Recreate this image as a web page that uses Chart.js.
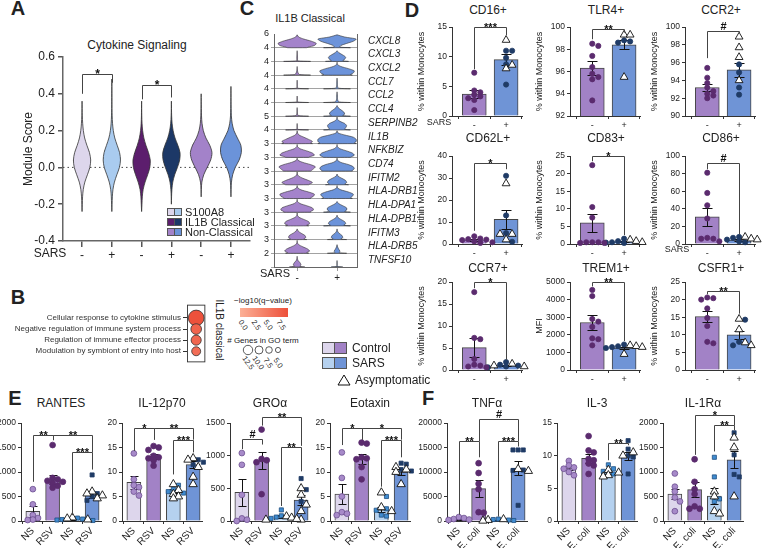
<!DOCTYPE html>
<html>
<head>
<meta charset="utf-8">
<title>Monocyte figure</title>
<script src="https://cdn.jsdelivr.net/npm/chart.js@4.4.1/dist/chart.umd.min.js"></script>
<style>
  body { margin: 0; background: #fff; }
  #fig { position: relative; width: 763px; height: 548px; overflow: hidden;
         font-family: "Liberation Sans", Arial, sans-serif; color: #222; }
  #fig canvas { position: absolute; }
  .t { position: absolute; white-space: nowrap; transform: translate(-50%, -50%); line-height: 1; }
  .sw { position: absolute; border: 1px solid #555; box-sizing: border-box; }
</style>
</head>
<body>
<div id="fig"></div>
<script>
// ---------------- data ----------------
// A: module score violins (density on a shared grid)
const aTicks = ['-', '+', '-', '+', '-', '+'];
const aGrid = [-0.24, -0.20, -0.16, -0.12, -0.08, -0.04, 0.00, 0.04, 0.08, 0.12, 0.16, 0.20, 0.24, 0.28, 0.32, 0.36, 0.40, 0.44, 0.48];
const aS100Ctrl = [0, 0.03, 0.06, 0.14, 0.32, 0.62, 0.9, 1.0, 0.86, 0.56, 0.3, 0.15, 0.07, 0.03, 0.01, 0, 0, 0, 0];
const aS100Sars = [0, 0.03, 0.06, 0.13, 0.3, 0.58, 0.88, 1.0, 0.9, 0.62, 0.34, 0.17, 0.08, 0.04, 0.02, 0.015, 0.01, 0.005, 0];
const aIl1bCtrl = [0, 0.04, 0.08, 0.18, 0.4, 0.7, 0.95, 1.0, 0.8, 0.5, 0.26, 0.12, 0.05, 0.02, 0.01, 0, 0, 0, 0];
const aIl1bSars = [0, 0, 0.02, 0.06, 0.16, 0.38, 0.7, 0.96, 1.0, 0.75, 0.42, 0.2, 0.08, 0.03, 0.01, 0, 0, 0, 0];
const aNcCtrl   = [0, 0, 0, 0.02, 0.08, 0.3, 0.7, 1.1, 1.25, 1.0, 0.55, 0.25, 0.1, 0.04, 0.02, 0.005, 0, 0, 0];
const aNcSars   = [0, 0, 0, 0.02, 0.06, 0.2, 0.5, 0.95, 1.2, 1.15, 0.75, 0.35, 0.14, 0.05, 0.025, 0.012, 0.006, 0, 0];
const aMedian = [0.038, 0.05, 0.03, 0.055, 0.065, 0.09];
const aQ1 = [-0.005, 0.005, -0.015, 0.015, 0.02, 0.055];
const aQ3 = [0.085, 0.09, 0.075, 0.10, 0.12, 0.13];
const aBrackets = [[0, 1, 0.51, 0.40, 0.46, '*'], [2, 3, 0.45, 0.37, 0.38, '*']];

// B: GO terms
const goTerms = ['Cellular response to cytokine stimulus', 'Negative regulation of immune system process',
                 'Regulation of immune effector process', 'Modulation by symbiont of entry into host'];
const goGenes = [14, 9.5, 9, 8];
const goLogQ = [7.9, 6.4, 6.2, 5.6];

// C: stacked violins, profile at relative expression levels
const cGenes = ['CXCL8', 'CXCL3', 'CXCL2', 'CCL7', 'CCL2', 'CCL4', 'SERPINB2', 'IL1B', 'NFKBIZ', 'CD74',
                'IFITM2', 'HLA-DRB1', 'HLA-DPA1', 'HLA-DPB1', 'IFITM3', 'HLA-DRB5', 'TNFSF10'];
const cMax = [6, 4, 4, 4, 4, 4, 5, 4, 3, 3, 3, 3, 3, 3, 3, 3, 2];
const cLevels = [0, 0.05, 0.17, 0.33, 0.5, 0.67, 0.83, 1];
const cCtrl = [
  [0.5, 0.6, 0.9, 1.0, 0.75, 0.35, 0.08, 0], [0.7, 0.02, 0.02, 0.02, 0.01, 0.01, 0, 0],
  [0.7, 0.12, 0.05, 0.02, 0.01, 0, 0, 0], [0.6, 0.02, 0.01, 0.01, 0.01, 0, 0, 0],
  [0.6, 0.02, 0.01, 0.01, 0, 0, 0, 0], [0.6, 0.06, 0.02, 0.01, 0.01, 0, 0, 0],
  [0.6, 0.02, 0.01, 0.01, 0, 0, 0, 0], [0.8, 0.7, 0.8, 0.6, 0.35, 0.1, 0.02, 0],
  [0.6, 0.65, 0.9, 0.8, 0.5, 0.15, 0.02, 0], [0.7, 0.75, 0.85, 0.95, 0.7, 0.3, 0.05, 0],
  [0.6, 0.65, 0.8, 0.6, 0.3, 0.08, 0.01, 0], [0.7, 0.7, 0.85, 0.9, 0.6, 0.2, 0.03, 0],
  [0.7, 0.7, 0.85, 0.8, 0.5, 0.15, 0.02, 0], [0.6, 0.5, 0.65, 0.6, 0.35, 0.1, 0.01, 0],
  [0.5, 0.35, 0.45, 0.4, 0.2, 0.05, 0, 0], [0.6, 0.5, 0.65, 0.55, 0.3, 0.08, 0.01, 0],
  [0.4, 0.15, 0.2, 0.15, 0.05, 0.01, 0, 0]
];
const cSars = [
  [0.7, 0.15, 0.2, 0.5, 0.85, 1.0, 0.4, 0], [0.6, 0.3, 0.4, 0.45, 0.3, 0.1, 0, 0],
  [0.8, 0.7, 0.85, 0.9, 0.6, 0.2, 0.02, 0], [0.7, 0.08, 0.03, 0.02, 0.02, 0.01, 0, 0],
  [0.7, 0.1, 0.04, 0.02, 0.02, 0.01, 0, 0], [0.7, 0.3, 0.4, 0.35, 0.2, 0.06, 0, 0],
  [0.7, 0.4, 0.45, 0.5, 0.4, 0.15, 0.02, 0], [1.0, 0.9, 1.0, 1.0, 0.85, 0.4, 0.05, 0],
  [0.7, 0.75, 0.9, 0.8, 0.5, 0.15, 0.02, 0], [0.8, 0.8, 0.9, 0.85, 0.6, 0.2, 0.03, 0],
  [0.6, 0.4, 0.5, 0.45, 0.25, 0.05, 0, 0], [0.8, 0.7, 0.8, 0.85, 0.6, 0.2, 0.02, 0],
  [0.7, 0.4, 0.5, 0.5, 0.3, 0.08, 0, 0], [0.7, 0.35, 0.45, 0.4, 0.2, 0.04, 0, 0],
  [0.5, 0.2, 0.3, 0.25, 0.1, 0.02, 0, 0], [0.5, 0.12, 0.15, 0.08, 0.03, 0, 0, 0],
  [0.3, 0.01, 0.01, 0.01, 0, 0, 0, 0]
];

// D: flow cytometry, control (-) vs SARS (+)
const dTicks = ['-', '+'];
const cd16Ctrl = [7.3, 4.3, 4.0, 3.6, 3.3, 3.0, 2.7, 1.0], cd16Sars = [11, 11, 9.8, 8.7, 5.3], cd16Asym = [12.8, 8.6, 8.0];
const cd16Mean = [3.7, 9.5], cd16Sem = [0.7, 0.9], cd16Br = [[0, 1, 15, 7.9, 13.6, '***']];
const tlr4Ctrl = [98.5, 98.3, 97.4, 96.4, 95.8, 95.5, 95.3, 93.4], tlr4Sars = [98.8, 98.7, 98.6], tlr4Asym = [99.3, 99.3, 95.5];
const tlr4Mean = [96.3, 98.4], tlr4Sem = [0.6, 0.4], tlr4Br = [[0, 1, 99.8, 98.9, 99.5, '**']];
const ccr2Ctrl = [95.4, 94.3, 93.7, 93.2, 92.8, 92.5, 92.3, 92.0], ccr2Sars = [95.8, 94.9, 93.2, 92.4], ccr2Asym = [98.9, 97.7, 96.6, 94.0];
const ccr2Mean = [93.2, 95.2], ccr2Sem = [0.4, 0.8], ccr2Br = [[0, 1, 99.5, 96.5, 99.3, '#']];
const cd62Ctrl = [3.5, 2.5, 2.2, 2.0, 1.8, 1.2, 0.8, 0.5], cd62Sars = [31, 13, 5, 1], cd62Asym = [27.5, 4.5, 4.5, 2];
const cd62Mean = [1.9, 11.2], cd62Sem = [0.4, 4.4], cd62Br = [[0, 1, 37, 6, 34, '*']];
const cd83Ctrl = [22.4, 10.5, 7.5, 0.5, 0.5, 0.5, 0.3, 0.3], cd83Sars = [1.5, 0.8, 0.5, 0.4, 0.3], cd83Asym = [1.2, 0.8, 0.5];
const cd83Mean = [6.0, 0.6], cd83Sem = [2.6, 0.15], cd83Br = [[0, 1, 25, 23.5, 2.5, '*']];
const cd86Ctrl = [81, 58, 44, 29, 7, 6, 6, 3], cd86Sars = [8, 7, 5, 3, 2], cd86Asym = [8, 6, 5];
const cd86Mean = [31, 4.5], cd86Sem = [10, 1], cd86Br = [[0, 1, 92, 85, 11, '#']];
const ccr7Ctrl = [17.7, 7.3, 7.0, 2.5, 1.2, 1.0, 0.8, 0.6], ccr7Sars = [1.8, 1.2, 1.0, 0.8, 0.6], ccr7Asym = [1.4, 1.0, 0.8];
const ccr7Mean = [5.1, 1.0], ccr7Sem = [2.1, 0.15], ccr7Br = [[0, 1, 20, 18.6, 2.3, '*']];
const trem1Ctrl = [4550, 4200, 2900, 2750, 2450, 1800, 1750, 1400], trem1Sars = [1450, 1350, 1300, 1250], trem1Asym = [1400, 1350, 1300, 900];
const trem1Mean = [2700, 1250], trem1Sem = [400, 80], trem1Br = [[0, 1, 5000, 4750, 1650, '**']];
const csfr1Ctrl = [20.6, 20.4, 20.0, 17.5, 14.8, 12.5, 8.0, 7.6], csfr1Sars = [14.3, 8.0, 7.0], csfr1Asym = [14.5, 11.5, 7.8, 7.0];
const csfr1Mean = [15.2, 10.0], csfr1Sem = [1.7, 1.2], csfr1Br = [[0, 1, 22.5, 21.5, 16, '**']];

// E: RSV stimulation
const eTicks = ['NS', 'RSV', 'NS', 'RSV'];
const rantesNs = [650, 340, 120, 60, 30, 20], rantesRsv = [1550, 880, 850, 820, 800, 770, 720, 680];
const rantesNs2 = [60, 40, 30, 20, 10], rantesNs2Asym = [70, 50, 30], rantesRsv2 = [940, 560, 500, 420], rantesRsv2Asym = [600, 560, 520, 460];
const rantesMean = [195, 840, 40, 530], rantesSem = [105, 95, 10, 60];
const rantesBr = [[0, 1, 1760, 800, 1650, '**'], [1, 3, 1760, 1650, 1400, '**'], [2, 3, 1400, 120, 1050, '***']];
const il12Ns = [13.8, 8.5, 7.3, 6.9, 6.0, 5.2], il12Rsv = [15.3, 15.0, 14.5, 13.3, 13.0, 12.8, 12.4, 11.3];
const il12Ns2 = [7.3, 6.5, 6.0, 5.7], il12Ns2Asym = [7.5, 6.3, 5.5, 5.0, 4.6], il12Rsv2 = [12.5, 12.0, 11.5], il12Rsv2Asym = [12.8, 12.5, 11.0, 9.0, 7.5];
const il12Mean = [7.9, 13.2, 6.2, 11.5], il12Sem = [1.3, 0.55, 0.4, 0.7];
const il12Br = [[0, 1, 19, 14.3, 16.6, '*'], [1, 3, 19, 16.6, 16.6, '**'], [2, 3, 16.6, 9.5, 14, '***']];
const groNs = [1040, 860, 400, 40, 20, 0], groRsv = [1400, 950, 930, 900, 410];
const groNs2 = [170, 80, 60, 40], groNs2Asym = [70, 50, 30, 20], groRsv2 = [650, 480, 300], groRsv2Asym = [500, 400, 250, 150, 20];
const groMean = [440, 920, 70, 320], groSem = [210, 130, 20, 80];
const groBr = [[0, 1, 1250, 1100, 1170, '#'], [1, 3, 1590, 1460, 1150, '**'], [2, 3, 1130, 230, 760, '**']];
const eotNs = [14.0, 8.8, 5.0, 1.8, 1.5, 1.2], eotRsv = [16.0, 15.8, 13.0, 12.8, 12.6, 11.0, 8.5];
const eotNs2 = [5.0, 2.5, 2.2, 1.2, 1.0], eotNs2Asym = [5.8, 2.8, 2.0], eotRsv2 = [11.8, 11.6, 10.5, 10.2], eotRsv2Asym = [11.0, 10.5, 10.0, 7.5];
const eotMean = [5.5, 12.7, 2.3, 10.0], eotSem = [2.0, 1.0, 0.5, 0.6];
const eotBr = [[0, 1, 19, 15.5, 16.6, '*'], [1, 3, 19, 16.6, 16.6, '*'], [2, 3, 16.6, 7, 13, '***']];

// F: E. coli stimulation
const fTicks = ['NS', 'E. coli', 'NS', 'E. coli'];
const tnfNs = [800, 600, 400, 300, 200], tnfEc = [11800, 9800, 7600, 6500, 1800, 1700];
const tnfNs2 = [400, 300, 200, 100], tnfNs2Asym = [350, 200, 50], tnfEc2 = [14500, 14500, 14500, 10400, 10300, 3200], tnfEc2Asym = [10600, 10200];
const tnfMean = [350, 6600, 200, 10800], tnfSem = [100, 1700, 60, 1400];
const tnfBr = [[0, 1, 16300, 1300, 13000, '**'], [1, 3, 20800, 16300, 16300, '#'], [2, 3, 16300, 900, 15200, '***']];
const il3Ns = [9.2, 8.5, 8.2, 8.0, 7.5, 7.0], il3Ec = [13.0, 10.8, 10.5, 9.5, 9.3, 8.8, 8.5, 7.2];
const il3Ns2 = [8.6, 8.0, 7.6, 7.2], il3Ns2Asym = [7.8, 7.4, 7.0, 6.8], il3Ec2 = [12.3, 11.0, 10.0, 9.8, 7.2], il3Ec2Asym = [10.5, 10.0];
const il3Mean = [8.1, 9.6, 7.4, 10.0], il3Sem = [0.35, 0.65, 0.25, 0.6];
const il3Br = [[2, 3, 12.0, 9.3, 11.6, '**']];
const il1raNs = [970, 700, 600, 480, 400, 200], il1raEc = [1260, 800, 650, 550, 300, 250, 250];
const il1raNs2 = [1300, 900, 450, 400], il1raNs2Asym = [600, 500, 200, 150], il1raEc2 = [1800, 1350, 950, 900], il1raEc2Asym = [1700, 1500, 500];
const il1raMean = [550, 640, 510, 1250], il1raSem = [110, 150, 160, 170];
const il1raBr = [[1, 3, 2160, 1350, 1950, '*'], [2, 3, 1960, 1420, 1850, '**']];

// ---------------- helpers ----------------
const fig = document.getElementById('fig');
const FONT = '"Liberation Sans", Arial, sans-serif';
Chart.defaults.font.family = FONT;
Chart.defaults.color = '#222';
Chart.defaults.plugins.legend.display = false;
Chart.defaults.plugins.tooltip.enabled = false;

function canvasAt(x, y, w, h) {
  const c = document.createElement('canvas');
  c.width = w; c.height = h;
  Object.assign(c.style, {left: x + 'px', top: y + 'px', width: w + 'px', height: h + 'px'});
  fig.appendChild(c);
  return c;
}
function text(s, x, y, size, extra) {
  const d = document.createElement('div');
  d.className = 't'; d.textContent = s;
  d.style.left = x + 'px'; d.style.top = y + 'px'; d.style.fontSize = size + 'px';
  if (extra) Object.assign(d.style, extra);
  fig.appendChild(d);
  return d;
}
const LEFT = {transform: 'translate(0, -50%)'};

// error bars + significance brackets, drawn through the chart's scales
function marksPlugin(m) {
  return {
    id: 'marks',
    afterDatasetDraw(chart, args) {
      if (!m.means || args.index !== 0) return;
      const {ctx} = chart, sx = chart.scales.x, sy = chart.scales.y;
      ctx.save(); ctx.strokeStyle = '#111'; ctx.lineWidth = 1;
      m.means.forEach((v, i) => {
        const px = Math.round(sx.getPixelForValue(i)) + 0.5;
        const hi = Math.round(sy.getPixelForValue(v + m.sems[i])) + 0.5;
        const lo = Math.round(sy.getPixelForValue(Math.max(v - m.sems[i], sy.min))) + 0.5;
        ctx.beginPath();
        ctx.moveTo(px, lo); ctx.lineTo(px, hi);
        ctx.moveTo(px - m.cap, hi); ctx.lineTo(px + m.cap, hi);
        ctx.moveTo(px - m.cap, lo); ctx.lineTo(px + m.cap, lo);
        ctx.stroke();
      });
      ctx.restore();
    },
    afterDraw(chart) {
      if (!m.brackets) return;
      const {ctx} = chart, sx = chart.scales.x, sy = chart.scales.y;
      ctx.save(); ctx.strokeStyle = '#444'; ctx.lineWidth = 1; ctx.fillStyle = '#111';
      ctx.font = 'bold ' + (m.font || 11) + 'px ' + FONT;
      ctx.textAlign = 'center'; ctx.textBaseline = 'alphabetic';
      m.brackets.forEach(([a, b, top, la, lb, s]) => {
        const xa = Math.round(sx.getPixelForValue(a)) + 0.5, xb = Math.round(sx.getPixelForValue(b)) + 0.5;
        const yt = Math.round(sy.getPixelForValue(top)) + 0.5;
        ctx.beginPath();
        ctx.moveTo(xa, sy.getPixelForValue(la)); ctx.lineTo(xa, yt);
        ctx.lineTo(xb, yt); ctx.lineTo(xb, sy.getPixelForValue(lb));
        ctx.stroke();
        ctx.fillText(s, (xa + xb) / 2, s.includes('*') ? yt + 3 : yt - 2);
      });
      ctx.restore();
    }
  };
}

function violin(center, ys, dens, half) {
  let lo = 0, hi = dens.length - 1;
  while (lo < hi && dens[lo + 1] === 0) lo++;
  while (hi > lo && dens[hi - 1] === 0) hi--;
  const right = [], left = [];
  for (let i = lo; i <= hi; i++) right.push({x: center + dens[i] * half, y: ys[i]});
  for (let i = hi; i >= lo; i--) left.push({x: center - dens[i] * half, y: ys[i]});
  return right.concat(left, [right[0]]);
}
function widthAt(ys, dens, v) {
  for (let i = 0; i < ys.length - 1; i++) {
    if (v >= ys[i] && v <= ys[i + 1]) {
      const t = (v - ys[i]) / (ys[i + 1] - ys[i]);
      return dens[i] + t * (dens[i + 1] - dens[i]);
    }
  }
  return 0;
}

// simple beeswarm: spread points that sit at similar values
function swarm(pts, center, thr, step) {
  const done = [];
  pts.slice().sort((p, q) => q.v - p.v).forEach(p => {
    const near = done.filter(q => Math.abs(q.v - p.v) < thr);
    let off = 0;
    for (let j = 0; j < 14; j++) {
      const c = j === 0 ? 0 : (j % 2 ? 1 : -1) * Math.ceil(j / 2) * step;
      if (!near.some(q => Math.abs(q.off - c) < step * 0.9)) { off = c; break; }
    }
    p.off = off; p.x = center + off; done.push(p);
  });
  return pts;
}

function dotBar(c) {
  const W = c.axisW + c.w + 8, H = c.padT + (c.bottom - c.top) + c.xh;
  const cv = canvasAt(c.ax - c.axisW, c.top - c.padT, W, H);
  const sets = [{type: 'bar', data: c.means.map((v, i) => ({x: i, y: v})), backgroundColor: c.fills,
                 borderColor: '#444', borderWidth: 1, barThickness: c.bw, order: 2}];
  const thr = (c.max - c.min) * 0.045;
  c.groups.forEach((g, i) => {
    const pts = g.pts.map(v => ({v, a: 0})).concat((g.asym || []).map(v => ({v, a: 1})));
    swarm(pts, i, thr, c.step);
    sets.push({type: 'scatter', data: pts.filter(p => !p.a).map(p => ({x: p.x, y: p.v})),
               pointStyle: g.style.shape, pointRadius: c.r, backgroundColor: g.style.color,
               borderColor: g.style.edge, borderWidth: 0.8, order: 1, clip: 8});
    if (g.asym) {
      sets.push({type: 'scatter', data: pts.filter(p => p.a).map(p => ({x: p.x, y: p.v})),
                 pointStyle: 'triangle', pointRadius: c.r + 1.9, backgroundColor: '#fff',
                 borderColor: '#111', borderWidth: 0.9, order: 0, clip: 8});
    }
  });
  new Chart(cv, {
    type: 'bar',
    data: {datasets: sets},
    options: {
      responsive: false, devicePixelRatio: 1, animation: false,
      layout: {padding: {top: c.padT, right: 8, left: 0, bottom: 0}},
      scales: {
        x: {type: 'linear', offset: false, min: c.xmin, max: c.xmax,
            afterBuildTicks: s => { s.ticks = c.labels.map((_, i) => ({value: i})); },
            ticks: {callback: v => c.labels[v], font: {size: c.xfont}, padding: 1, autoSkip: false,
                    minRotation: c.rot, maxRotation: c.rot},
            grid: {drawOnChartArea: false, tickLength: 3, color: '#333'},
            border: {color: '#333'},
            afterFit: s => { s.height = c.xh; }},
        y: {min: c.min, max: c.max,
            ticks: {stepSize: c.stepY, font: {size: 8.5}, padding: 2, callback: v => v},
            grid: {drawOnChartArea: false, tickLength: 3, color: '#333'},
            border: {color: '#333'},
            title: c.ytitle ? {display: true, text: c.ytitle, font: {size: 9}, padding: {top: 4, bottom: 0}} : {display: false},
            afterFit: s => { s.width = c.axisW; }}
      }
    },
    plugins: [marksPlugin({means: c.means, sems: c.sems, cap: c.cap, brackets: c.br, font: 11})]
  });
}

// ---------------- panel letters ----------------
[['A', 18, 8], ['B', 18, 297], ['C', 247, 8], ['D', 412, 10], ['E', 15, 398], ['F', 428, 398]]
  .forEach(([s, x, y]) => text(s, x, y, 20, {fontWeight: 'bold'}));

// ---------------- A ----------------
text('Cytokine Signaling', 137, 45, 12);
const aDens = [aS100Ctrl, aS100Sars, aIl1bCtrl, aIl1bSars, aNcCtrl, aNcSars];
const aFill = ['#ddd6ec', '#a9cbef', '#5c1e6d', '#1c3867', '#a382c9', '#6b93d9'];
const A_HALF = 0.29;
const aSets = [{type: 'line', data: [{x: -0.64, y: 0}, {x: 5.64, y: 0}], borderColor: '#444', borderWidth: 1,
                borderDash: [1.5, 3], pointRadius: 0, fill: false, order: 10}];
aDens.forEach((d, i) => {
  aSets.push({type: 'line', data: violin(i, aGrid, d, A_HALF), fill: 'shape', backgroundColor: aFill[i],
              borderColor: '#333', borderWidth: 0.8, pointRadius: 0, tension: 0.3});
  [[aQ1[i], [1.5, 2]], [aMedian[i], [4, 2.5]], [aQ3[i], [1.5, 2]]].forEach(([v, dash]) => {
    const w = widthAt(aGrid, d, v) * A_HALF;
    aSets.push({type: 'line', data: [{x: i - w, y: v}, {x: i + w, y: v}], borderColor: '#111',
                borderWidth: 1.2, borderDash: dash, pointRadius: 0, fill: false});
  });
});
new Chart(canvasAt(0, 37, 254, 222), {
  type: 'scatter',
  data: {datasets: aSets},
  options: {
    responsive: false, devicePixelRatio: 1, animation: false,
    layout: {padding: {top: 20, right: 4, left: 0, bottom: 0}},
    scales: {
      x: {type: 'linear', min: -0.64, max: 5.64,
          afterBuildTicks: s => { s.ticks = aTicks.map((_, i) => ({value: i})); },
          ticks: {callback: v => aTicks[v], font: {size: 12}, padding: 1, autoSkip: false, maxRotation: 0},
          grid: {drawOnChartArea: false, tickLength: 6, color: '#555', lineWidth: 1.5},
          border: {color: '#666', width: 1.5},
          afterFit: s => { s.height = 18; }},
      y: {min: -0.4, max: 0.6,
          ticks: {stepSize: 0.2, callback: v => v.toFixed(1), font: {size: 12}, padding: 3},
          grid: {drawOnChartArea: false, tickLength: 5, color: '#555', lineWidth: 1.5},
          border: {color: '#666', width: 1.5},
          title: {display: true, text: 'Module Score', font: {size: 12}, padding: {top: 21, bottom: 0}},
          afterFit: s => { s.width = 63; }}
    }
  },
  plugins: [marksPlugin({brackets: aBrackets, font: 12})]
});
text('SARS', 50, 253, 12);
[['S100A8', '#ddd6ec', '#a9cbef'], ['IL1B Classical', '#5c1e6d', '#1c3867'], ['Non-Classical', '#a382c9', '#6b93d9']]
  .forEach(([s, c1, c2], i) => {
    const y = 212 + i * 10;
    const a = document.createElement('div'); a.className = 'sw';
    Object.assign(a.style, {left: '167px', top: (y - 4) + 'px', width: '8px', height: '8px', background: c1});
    const b = a.cloneNode(); b.style.left = '174px'; b.style.background = c2;
    fig.appendChild(a); fig.appendChild(b);
    text(s, 185, y, 11, LEFT);
  });

// ---------------- B ----------------
function qColor(q) {
  const t = Math.min(q / 8, 1), lo = [252, 176, 150], hi = [237, 80, 58];
  return 'rgb(' + lo.map((c, k) => Math.round(c + (hi[k] - c) * t)).join(',') + ')';
}
const boxPlugin = {
  id: 'box',
  beforeDatasetsDraw(chart) {
    const {ctx, chartArea: a} = chart;
    ctx.save(); ctx.strokeStyle = '#333'; ctx.lineWidth = 0.9;
    ctx.strokeRect(a.left + 0.5, a.top + 0.5, a.right - a.left - 1, a.bottom - a.top - 1);
    ctx.restore();
  }
};
new Chart(canvasAt(0, 296, 214, 75), {
  type: 'bubble',
  data: {datasets: [{data: goTerms.map((_, i) => ({x: 0, y: i, r: goGenes[i] * 0.56})),
                     backgroundColor: goLogQ.map(qColor), borderColor: '#333', borderWidth: 0.8}]},
  options: {
    responsive: false, devicePixelRatio: 1, animation: false,
    layout: {padding: {top: 1, right: 2, left: 0, bottom: 1}},
    scales: {
      x: {display: false, min: -0.5, max: 0.5},
      y: {reverse: true, min: -1.2, max: 4,
          afterBuildTicks: s => { s.ticks = goTerms.map((_, i) => ({value: i})); },
          ticks: {callback: v => goTerms[v], font: {size: 8}, color: '#333', padding: 2, autoSkip: false},
          grid: {drawOnChartArea: false, tickLength: 4, color: '#333'},
          border: {display: false},
          afterFit: s => { s.width = 187; }}
    }
  },
  plugins: [boxPlugin]
});
text('IL1B classical', 219, 330, 10, {transform: 'translate(-50%, -50%) rotate(90deg)'});
text('\u2212log10(q\u2212value)', 263, 301, 8);
const grad = document.createElement('div');
Object.assign(grad.style, {position: 'absolute', left: '240px', top: '308px', width: '48px', height: '9px',
                           background: 'linear-gradient(to right, ' + qColor(0) + ', ' + qColor(8.5) + ')'});
fig.appendChild(grad);
['0.0', '2.5', '5.0', '7.5'].forEach((s, i) => text(s, 243 + i * 12.5, 325, 7.5, {transform: 'translate(-50%, -50%) rotate(55deg)'}));
text('# Genes in GO term', 263, 341, 8);
const gsv = document.createElementNS('http://www.w3.org/2000/svg', 'svg');
gsv.setAttribute('width', 50); gsv.setAttribute('height', 14);
Object.assign(gsv.style, {position: 'absolute', left: '240px', top: '343px'});
[[8, 4.7], [19, 4], [29, 3.3], [38, 2.6]].forEach(([cx, r]) => {
  const c = document.createElementNS('http://www.w3.org/2000/svg', 'circle');
  c.setAttribute('cx', cx); c.setAttribute('cy', 7); c.setAttribute('r', r);
  c.setAttribute('fill', 'none'); c.setAttribute('stroke', '#333'); c.setAttribute('stroke-width', 0.8);
  gsv.appendChild(c);
});
fig.appendChild(gsv);
['12.5', '10.0', '7.5', '5.0'].forEach((s, i) => text(s, 248 + i * 10, 363, 7.5, {transform: 'translate(-50%, -50%) rotate(55deg)'}));

// ---------------- C ----------------
text('IL1B Classical', 310, 18, 11);
const C_HALF = 0.48;
const cSets = [];
cGenes.forEach((g, k) => {
  const base = 16 - k;
  const ys = cLevels.map(l => base + l * 0.94);
  cSets.push({type: 'line', data: violin(0, ys, cCtrl[k], C_HALF), fill: 'shape', backgroundColor: '#a483cb',
              borderColor: '#333', borderWidth: 0.6, pointRadius: 0, tension: 0.25});
  cSets.push({type: 'line', data: violin(1, ys, cSars[k], C_HALF), fill: 'shape', backgroundColor: '#6c93da',
              borderColor: '#333', borderWidth: 0.6, pointRadius: 0, tension: 0.25});
});
new Chart(canvasAt(256, 25, 166, 256), {
  type: 'scatter',
  data: {datasets: cSets},
  options: {
    responsive: false, devicePixelRatio: 1, animation: false,
    layout: {padding: {top: 4, right: 0, left: 0, bottom: 0}},
    scales: {
      x: {type: 'linear', min: -0.58, max: 1.5,
          afterBuildTicks: s => { s.ticks = [{value: 0}, {value: 1}]; },
          ticks: {callback: v => dTicks[v], font: {size: 10}, padding: 1, autoSkip: false, maxRotation: 0},
          grid: {drawOnChartArea: false, tickLength: 4, color: '#999'},
          border: {color: '#666'},
          afterFit: s => { s.height = 14; }},
      y: {min: 0, max: 17,
          afterBuildTicks: s => { s.ticks = Array.from({length: 18}, (_, v) => ({value: v})); },
          ticks: {callback: v => (v > 0 ? cMax[17 - v] : ''), font: {size: 9}, padding: 2, autoSkip: false},
          grid: {color: ctx => (ctx.tick && ctx.tick.value === 17 ? 'rgba(0,0,0,0)' : '#8a8a8a'), lineWidth: 0.8, tickLength: 3},
          border: {color: '#666'},
          afterFit: s => { s.width = 18; }},
      g: {type: 'linear', position: 'right', min: 0, max: 17,
          afterBuildTicks: s => { s.ticks = cGenes.map((_, k) => ({value: k + 0.5})); },
          ticks: {callback: v => cGenes[Math.round(16.5 - v)], font: {size: 10, style: 'italic'}, padding: 3, autoSkip: false},
          grid: {display: false},
          border: {color: '#666'},
          afterFit: s => { s.width = 65; }}
    }
  }
});
text('SARS', 275, 273, 11);

// ---------------- D ----------------
const dCols = [452, 570, 685];
const dRows = [[27, 116], [156, 244], [282, 370]];
const dCtrlStyle = {shape: 'circle', color: '#5b2b6e', edge: '#5b2b6e'};
const dSarsStyle = {shape: 'circle', color: '#1f3b66', edge: '#1f3b66'};
const PCT = '% within Monocytes';
const dPanels = [
  {t: 'CD16+', col: 0, row: 0, min: 0, max: 15, stepY: 5, g: [cd16Ctrl, cd16Sars, cd16Asym], means: cd16Mean, sems: cd16Sem, br: cd16Br, ytitle: PCT},
  {t: 'TLR4+', col: 1, row: 0, min: 92, max: 100, stepY: 2, g: [tlr4Ctrl, tlr4Sars, tlr4Asym], means: tlr4Mean, sems: tlr4Sem, br: tlr4Br, ytitle: PCT},
  {t: 'CCR2+', col: 2, row: 0, min: 90, max: 100, stepY: 2, g: [ccr2Ctrl, ccr2Sars, ccr2Asym], means: ccr2Mean, sems: ccr2Sem, br: ccr2Br, ytitle: PCT},
  {t: 'CD62L+', col: 0, row: 1, min: 0, max: 40, stepY: 10, g: [cd62Ctrl, cd62Sars, cd62Asym], means: cd62Mean, sems: cd62Sem, br: cd62Br, ytitle: PCT},
  {t: 'CD83+', col: 1, row: 1, min: 0, max: 25, stepY: 5, g: [cd83Ctrl, cd83Sars, cd83Asym], means: cd83Mean, sems: cd83Sem, br: cd83Br, ytitle: PCT},
  {t: 'CD86+', col: 2, row: 1, min: 0, max: 100, stepY: 20, g: [cd86Ctrl, cd86Sars, cd86Asym], means: cd86Mean, sems: cd86Sem, br: cd86Br, ytitle: PCT},
  {t: 'CCR7+', col: 0, row: 2, min: 0, max: 20, stepY: 5, g: [ccr7Ctrl, ccr7Sars, ccr7Asym], means: ccr7Mean, sems: ccr7Sem, br: ccr7Br, ytitle: PCT},
  {t: 'TREM1+', col: 1, row: 2, min: 0, max: 5000, stepY: 1000, g: [trem1Ctrl, trem1Sars, trem1Asym], means: trem1Mean, sems: trem1Sem, br: trem1Br, ytitle: 'MFI'},
  {t: 'CSFR1+', col: 2, row: 2, min: 0, max: 25, stepY: 5, g: [csfr1Ctrl, csfr1Sars, csfr1Asym], means: csfr1Mean, sems: csfr1Sem, br: csfr1Br, ytitle: PCT}
];
const dTitleY = [10, 138, 268];
dPanels.forEach(p => {
  const ax = dCols[p.col], [top, bottom] = dRows[p.row];
  text(p.t, ax + 36, dTitleY[p.row], 12);
  dotBar({ax, top, bottom, axisW: 40, w: 70, padT: 14, xh: 13, xmin: -0.7, xmax: 1.5, bw: 24,
          r: 2.6, step: 0.19, cap: 5, min: p.min, max: p.max, stepY: p.stepY, labels: dTicks, xfont: 9, rot: 0,
          fills: ['#a282c6', '#6f94d6'], means: p.means, sems: p.sems, br: p.br, ytitle: p.ytitle,
          groups: [{pts: p.g[0], style: dCtrlStyle}, {pts: p.g[1], asym: p.g[2], style: dSarsStyle}]});
});
text('SARS', 439, 122, 9);
text('SARS', 677, 249, 9);

// legend for D / E / F
[['Control', '#ddd6ec', '#a282c6', 348], ['SARS', '#b5d1ef', '#6f94d6', 363]].forEach(([s, c1, c2, y]) => {
  const a = document.createElement('div'); a.className = 'sw';
  Object.assign(a.style, {left: '322px', top: (y - 6) + 'px', width: '13px', height: '12px', background: c1});
  const b = a.cloneNode(); b.style.left = '334px'; b.style.background = c2;
  fig.appendChild(a); fig.appendChild(b);
  text(s, 352, y, 12, LEFT);
});
const tri = document.createElementNS('http://www.w3.org/2000/svg', 'svg');
tri.setAttribute('width', 14); tri.setAttribute('height', 12);
Object.assign(tri.style, {position: 'absolute', left: '337px', top: '374px'});
const poly = document.createElementNS('http://www.w3.org/2000/svg', 'polygon');
poly.setAttribute('points', '7,1 13,11 1,11'); poly.setAttribute('fill', '#fff');
poly.setAttribute('stroke', '#111'); poly.setAttribute('stroke-width', 1);
tri.appendChild(poly); fig.appendChild(tri);
text('Asymptomatic', 355, 380, 12, LEFT);

// ---------------- E / F ----------------
const efStyles = [
  {shape: 'circle', color: '#a78ac9', edge: '#6d5090'},
  {shape: 'circle', color: '#5b2b6e', edge: '#5b2b6e'},
  {shape: 'rect', color: '#3f8bd0', edge: '#1f4f80'},
  {shape: 'rect', color: '#1f3b66', edge: '#1f3b66'}
];
const efFills = ['#ddd6ec', '#a282c6', '#b5d1ef', '#6f94d6'];
const efPanels = [
  {t: 'RANTES', ax: 21, axisW: 26, labels: eTicks, max: 2000, stepY: 500, g: [rantesNs, rantesRsv, rantesNs2, rantesNs2Asym, rantesRsv2, rantesRsv2Asym], means: rantesMean, sems: rantesSem, br: rantesBr},
  {t: 'IL-12p70', ax: 122, axisW: 26, labels: eTicks, max: 20, stepY: 5, g: [il12Ns, il12Rsv, il12Ns2, il12Ns2Asym, il12Rsv2, il12Rsv2Asym], means: il12Mean, sems: il12Sem, br: il12Br},
  {t: 'GRO\u03b1', ax: 230, axisW: 26, labels: eTicks, max: 1500, stepY: 500, g: [groNs, groRsv, groNs2, groNs2Asym, groRsv2, groRsv2Asym], means: groMean, sems: groSem, br: groBr},
  {t: 'Eotaxin', ax: 330, axisW: 26, labels: eTicks, max: 20, stepY: 5, g: [eotNs, eotRsv, eotNs2, eotNs2Asym, eotRsv2, eotRsv2Asym], means: eotMean, sems: eotSem, br: eotBr},
  {t: 'TNF\u03b1', ax: 447, axisW: 30, labels: fTicks, max: 20000, stepY: 5000, g: [tnfNs, tnfEc, tnfNs2, tnfNs2Asym, tnfEc2, tnfEc2Asym], means: tnfMean, sems: tnfSem, br: tnfBr},
  {t: 'IL-3', ax: 557, axisW: 30, labels: fTicks, max: 15, stepY: 5, g: [il3Ns, il3Ec, il3Ns2, il3Ns2Asym, il3Ec2, il3Ec2Asym], means: il3Mean, sems: il3Sem, br: il3Br},
  {t: 'IL-1R\u03b1', ax: 663, axisW: 30, labels: fTicks, max: 2000, stepY: 500, g: [il1raNs, il1raEc, il1raNs2, il1raNs2Asym, il1raEc2, il1raEc2Asym], means: il1raMean, sems: il1raSem, br: il1raBr}
];
efPanels.forEach(p => {
  text(p.t, p.ax + 40, 403, 12);
  dotBar({ax: p.ax, top: 423, bottom: 521, axisW: p.axisW, w: 80, padT: 18, xh: 32, xmin: -0.6, xmax: 3.45, bw: 14,
          r: 2.9, step: 0.26, cap: 4, min: 0, max: p.max, stepY: p.stepY, labels: p.labels, xfont: 10, rot: 45,
          fills: efFills, means: p.means, sems: p.sems, br: p.br,
          groups: [{pts: p.g[0], style: efStyles[0]}, {pts: p.g[1], style: efStyles[1]},
                   {pts: p.g[2], asym: p.g[3], style: efStyles[2]}, {pts: p.g[4], asym: p.g[5], style: efStyles[3]}]});
});
</script>
</body>
</html>
